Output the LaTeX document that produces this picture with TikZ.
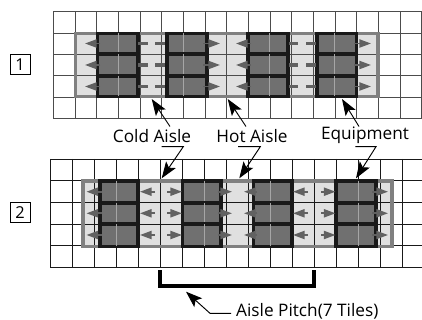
\documentclass[tikz,border=0pt]{standalone}
\usepackage{fontspec}
\setmainfont{Open Sans}
\usetikzlibrary{arrows.meta}
\definecolor{aisle}{gray}{0.88}
\definecolor{rackfill}{gray}{0.44}
\definecolor{flow}{gray}{0.38}
\tikzset{
  tile/.style={line width=0.7pt, draw=black!70},
  wall/.style={line width=2.6pt, draw=black!50},
  aislefill/.style={fill=aisle},
  rack/.style={line width=3.3pt, draw=black!90, fill=rackfill},
  seam/.style={line width=0.6pt, draw=black!35},
  flowarrow/.style={line width=1.5pt, draw=flow, -{Stealth[length=10pt,width=7pt,inset=0pt,fill=flow]}},
  flowdash/.style={line width=3pt, draw=flow},
  callout/.style={line width=0.8pt, -{Stealth[length=14pt,width=10pt,inset=3pt]}},
  tag/.style={draw, line width=0.7pt, minimum width=17pt, minimum height=17pt, inner sep=0pt, font=\fontsize{14}{14}\selectfont},
  caption/.style={inner sep=0pt, font=\fontsize{14.7}{15}\selectfont},
}
\begin{document}
\begin{tikzpicture}[x=0.03cm, y=-0.03cm]
    \useasboundingbox (0,0) rectangle (422,320);
    \clip (0,0) rectangle (422,320);

    % layout 1
    \fill[aislefill] (75.5,33.5) rectangle (378,96.5);
    \foreach \k in {0,...,17} {
        \draw[tile] ({53.3+21.67*\k},11.7) -- ({53.3+21.67*\k},118.3);
    }
    \foreach \k in {0,...,5} {
        \draw[tile] (53.3,{11.7+21.33*\k}) -- (421.7,{11.7+21.33*\k});
    }
    \draw[wall] (75.5,33.5) rectangle (378,96.5);
    \foreach \xa/\xs/\xb in {97.5/118.3/138, 167/183.3/207, 248/269.7/288, 317/334.7/356.5} {
        \foreach \ya/\yb in {33.5/54, 54/75.7, 75.7/96.5} {
            \draw[rack] (\xa,\ya) rectangle (\xb,\yb);
            \draw[seam] (\xs,\ya) -- (\xs,\yb);
        }
    }
    \foreach \y in {43.5,65,86.5} {
        \draw[flowarrow] (100,\y) -- (85,\y);
        \draw[flowarrow] (203,\y) -- (220,\y);
        \draw[flowarrow] (251,\y) -- (236,\y);
        \draw[flowarrow] (354,\y) -- (371,\y);
        \foreach \xa/\xb in {138/148, 155/165, 289/298, 306/316} {
            \draw[flowdash] (\xa,\y) -- (\xb,\y);
        }
    }

    % layout 2
    \fill[aislefill] (83,181) rectangle (392,246.5);
    \foreach \k in {0,...,17} {
        \draw[tile, draw=black!90] ({50.3+22*\k},159) -- ({50.3+22*\k},267.7);
    }
    \foreach \k in {0,...,5} {
        \draw[tile, draw=black!90] (50.3,{159+21.7*\k}) -- (422,{159+21.7*\k});
    }
    \draw[wall] (83,181) rectangle (392,246.5);
    \foreach \xa/\xs/\xb in {100/116.3/138.3, 182.5/204.3/221, 253.5/270.3/292, 336/358.3/376} {
        \foreach \ya/\yb in {181/202.7, 202.7/224.3, 224.3/246.5} {
            \draw[rack] (\xa,\ya) rectangle (\xb,\yb);
            \draw[seam] (\xs,\ya) -- (\xs,\yb);
        }
    }
    \foreach \y in {191.7,213.3,235} {
        \draw[flowarrow] (102,\y) -- (86.5,\y);
        \draw[flowarrow] (155,\y) -- (140,\y);
        \draw[flowarrow] (167,\y) -- (182,\y);
        \draw[flowarrow] (218,\y) -- (232,\y);
        \draw[flowarrow] (257,\y) -- (244,\y);
        \draw[flowarrow] (308,\y) -- (293,\y);
        \draw[flowarrow] (321,\y) -- (335.5,\y);
        \draw[flowarrow] (372,\y) -- (388,\y);
    }

    % tags
    \node[tag] (tagA) at (20,64.5) {1};
    \node[tag] (tagB) at (20,212.5) {2};

    % labels
    \node[caption] (coldLabel) at (152,136.5) {Cold Aisle};
    \node[caption] (hotLabel) at (252,136.5) {Hot Aisle};
    \node[caption] (equipLabel) at (365,135) {Equipment};
    \node[caption, anchor=west] (pitchLabel) at (236,311) {Aisle Pitch(7 Tiles)};

    \coordinate (coldTail) at (170,126.5);
    \coordinate (coldTip) at (151.7,99);
    \coordinate (hotTail) at (246,126.5);
    \coordinate (hotTip) at (227.7,99);
    \coordinate (equipTail) at (359,126.5);
    \coordinate (equipTip) at (342,99);

    \coordinate (coldStart) at (161.7,146.7);
    \coordinate (coldBend) at (183.3,146.7);
    \coordinate (coldEnd) at (161.7,178.3);
    \coordinate (hotStart) at (238,146.7);
    \coordinate (hotBend) at (260.3,146.7);
    \coordinate (hotEnd) at (239.3,178.3);
    \coordinate (equipStart) at (355.3,146.7);
    \coordinate (equipBend) at (376,146.7);
    \coordinate (equipEnd) at (356,178.3);

    \draw[callout] (coldTail) -- (coldTip);
    \draw[callout] (hotTail) -- (hotTip);
    \draw[callout] (equipTail) -- (equipTip);
    \draw[callout] (coldStart) -- (coldBend) -- (coldEnd);
    \draw[callout] (hotStart) -- (hotBend) -- (hotEnd);
    \draw[callout] (equipStart) -- (equipBend) -- (equipEnd);

    % pitch bracket
    \coordinate (pitchL) at (160.3,270.5);
    \coordinate (pitchLb) at (160.3,285.7);
    \coordinate (pitchRb) at (314.3,285.7);
    \coordinate (pitchR) at (314.3,270.5);
    \draw[line width=3.6pt] (pitchL) -- (pitchLb) -- (pitchRb) -- (pitchR);

    \coordinate (pitchFree) at (231,313.3);
    \coordinate (pitchBend) at (210,313.3);
    \coordinate (pitchTip) at (186,291.7);
    \draw[callout] (pitchFree) -- (pitchBend) -- (pitchTip);
\end{tikzpicture}
\end{document}
